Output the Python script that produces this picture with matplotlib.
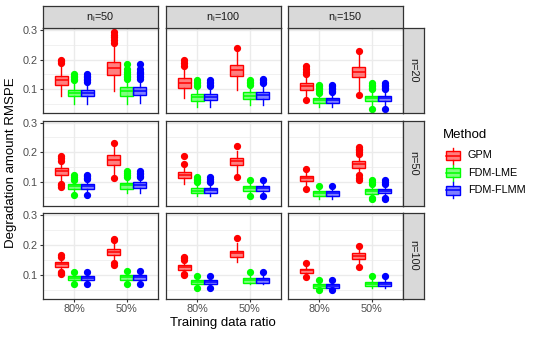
import matplotlib
matplotlib.use("Agg")
import matplotlib.pyplot as plt
from matplotlib.patches import Rectangle
from matplotlib.ticker import MultipleLocator

# ---------------- data ----------------
methods = ["GPM", "FDM-LME", "FDM-FLMM"]
colors = ["#FF0000", "#00FF00", "#0000FF"]
ratios = ["80%", "50%"]
col_labels = ["n$_\\mathregular{i}$=50", "n$_\\mathregular{i}$=100", "n$_\\mathregular{i}$=150"]
row_labels = ["n=20", "n=50", "n=100"]

# each entry: [row][col][ratio] -> (whislo, q1, med, q3, whishi)
gpm_stats = [
    [[(.076, .114, .130, .145, .185), (.095, .147, .171, .193, .245)],
     [(.072, .104, .122, .137, .175), (.099, .145, .164, .183, .228)],
     [(.075, .097, .110, .122, .145), (.095, .141, .158, .176, .215)]],
    [[(.100, .124, .136, .147, .165), (.125, .159, .174, .190, .220)],
     [(.093, .113, .123, .133, .150), (.130, .159, .170, .182, .205)],
     [(.090, .103, .113, .122, .135), (.130, .149, .160, .170, .190)]],
    [[(.115, .126, .135, .143, .155), (.148, .166, .175, .185, .205)],
     [(.107, .117, .126, .134, .145), (.143, .160, .172, .181, .205)],
     [(.098, .106, .114, .120, .132), (.135, .151, .161, .172, .188)]],
]
gpm_fliers = [
    [[[.19, .195, .2], [.255, .265, .275, .285, .293]],
     [[.18, .19, .2], [.238]],
     [[.064, .15, .16, .17, .178], [.081, .231]]],
    [[[.084, .09, .095, .172, .18, .187], [.115, .233]],
     [[.161, .187], [.118, .222]],
     [[.078, .145], [.107, .115, .124, .195, .2, .207, .213, .218]]],
    [[[.103, .106, .109, .16, .166], [.134, .138, .215, .219]],
     [[.098, .103, .149, .155, .16], [.223]],
     [[.092, .14], [.126, .197]]],
]
lme_stats = [
    [[(.050, .076, .087, .098, .125), (.052, .079, .093, .107, .130)],
     [(.039, .062, .073, .085, .105), (.047, .066, .078, .091, .110)],
     [(.040, .053, .063, .070, .085), (.045, .059, .069, .078, .095)]],
    [[(.065, .076, .086, .094, .105), (.064, .078, .090, .098, .115)],
     [(.055, .064, .072, .080, .095), (.060, .071, .079, .086, .100)],
     [(.044, .055, .062, .069, .080), (.050, .061, .069, .078, .090)]],
    [[(.072, .081, .089, .095, .104), (.074, .083, .091, .098, .108)],
     [(.060, .067, .075, .083, .090), (.067, .073, .081, .089, .100)],
     [(.051, .056, .062, .069, .076), (.056, .061, .069, .077, .088)]],
]
lme_fliers = [
    [[[.13, .135, .14, .145, .151], [.135, .14, .145, .15, .16, .17, .185]],
     [[.11, .115, .12, .125, .133], [.115, .12, .125, .133]],
     [[.088, .095, .1, .105, .11, .115], [.033, .1, .105, .11, .115, .12]]],
    [[[.057, .107, .112, .118, .124], [.118, .124, .13, .136]],
     [[.101, .106, .112, .118], [.053, .107]],
     [[.086], [.043, .047, .095, .1, .107]]],
    [[[.067, .109], [.069, .113]],
     [[.056, .095], [.109]],
     [[.047, .081], [.094]]],
]
flmm_stats = [
    [[(.050, .076, .088, .099, .120), (.053, .080, .095, .108, .130)],
     [(.040, .063, .075, .085, .105), (.047, .068, .080, .092, .115)],
     [(.040, .053, .063, .070, .085), (.045, .060, .070, .078, .095)]],
    [[(.066, .077, .087, .095, .106), (.065, .080, .090, .099, .115)],
     [(.055, .064, .073, .081, .095), (.060, .072, .080, .087, .100)],
     [(.044, .055, .062, .069, .080), (.050, .062, .070, .078, .090)]],
    [[(.072, .081, .089, .095, .104), (.074, .083, .091, .098, .108)],
     [(.060, .067, .075, .083, .090), (.067, .073, .082, .089, .100)],
     [(.051, .056, .062, .069, .076), (.056, .061, .069, .077, .088)]],
]
flmm_fliers = [
    [[[.125, .13, .135, .14, .145, .15], [.135, .14, .145, .15, .155, .16, .17, .185]],
     [[.11, .115, .12, .125, .133], [.12, .125, .13, .135]],
     [[.09, .095, .1, .105, .11, .115], [.033, .1, .105, .11, .115, .12]]],
    [[[.057, .11, .115, .12, .124], [.118, .122, .127, .132, .136]],
     [[.1, .105, .11, .118], [.053, .107]],
     [[.086], [.043, .047, .095, .1, .107]]],
    [[[.067, .109], [.069, .113]],
     [[.056, .095], [.109]],
     [[.047, .081], [.094]]],
]
all_stats = [gpm_stats, lme_stats, flmm_stats]
all_fliers = [gpm_fliers, lme_fliers, flmm_fliers]

# ---------------- layout ----------------
plt.rcParams["font.family"] = ["Liberation Sans", "DejaVu Sans"]
plt.rcParams["mathtext.fontset"] = "custom"
plt.rcParams["mathtext.rm"] = "Liberation Sans"
W, H = 540, 337
fig = plt.figure(figsize=(W / 100, H / 100), dpi=100)

col_x = [(43, 158), (166, 281), (288, 403)]
row_y = [(28, 113), (120.5, 206), (213, 298.5)]
strip_top = (6, 28)
strip_right = (403, 424)
border = "#333333"
grid_major = "#EBEBEB"
text_grey = "#4D4D4D"


def px_axes(x0, y0, x1, y1, **kw):
    return fig.add_axes([x0 / W, 1 - y1 / H, (x1 - x0) / W, (y1 - y0) / H], **kw)


offsets = [-0.25, 0.0, 0.25]
for r in range(3):
    for c in range(3):
        x0, x1 = col_x[c]
        y0, y1 = row_y[r]
        ax = px_axes(x0, y0, x1, y1)
        ax.set_xlim(0.4, 2.6)
        ax.set_ylim(0.02, 0.307)
        ax.set_facecolor("white")
        ax.yaxis.set_major_locator(MultipleLocator(0.1))
        ax.yaxis.set_minor_locator(MultipleLocator(0.05))
        ax.set_xticks([1, 2])
        ax.grid(True, which="major", color=grid_major, linewidth=1.0, zorder=0)
        ax.grid(True, which="minor", axis="y", color=grid_major, linewidth=0.5, zorder=0)
        ax.set_axisbelow(True)
        for m in range(3):
            stats = []
            for k in range(2):
                wl, q1, med, q3, wh = all_stats[m][r][c][k]
                stats.append(dict(whislo=wl, q1=q1, med=med, q3=q3, whishi=wh,
                                  fliers=all_fliers[m][r][c][k]))
            col = colors[m]
            ax.bxp(stats, positions=[1 + offsets[m], 2 + offsets[m]], widths=0.24,
                   patch_artist=True, showcaps=False,
                   boxprops=dict(facecolor=col + "80", edgecolor=col, linewidth=1.0),
                   medianprops=dict(color=col, linewidth=1.1),
                   whiskerprops=dict(color=col, linewidth=1.0),
                   flierprops=dict(marker="o", markerfacecolor=col, markeredgecolor=col,
                                   markersize=4.2, linestyle="none"),
                   manage_ticks=False)
        for s in ax.spines.values():
            s.set_color(border)
            s.set_linewidth(0.9)
        ax.tick_params(which="minor", length=0)
        ax.tick_params(which="major", length=2.5, width=0.8, color=border,
                       labelsize=7.8, labelcolor=text_grey, pad=1.5)
        if c == 0:
            ax.set_yticks([0.1, 0.2, 0.3])
            ax.set_yticklabels(["0.1", "0.2", "0.3"])
        else:
            ax.tick_params(axis="y", length=0, labelleft=False)
        if r == 2:
            ax.set_xticklabels(ratios)
        else:
            ax.tick_params(axis="x", length=0, labelbottom=False)

# strips
for c in range(3):
    x0, x1 = col_x[c]
    sax = px_axes(x0, strip_top[0], x1, strip_top[1])
    sax.set_facecolor("#D9D9D9")
    sax.set_xticks([]); sax.set_yticks([])
    for s in sax.spines.values():
        s.set_color(border); s.set_linewidth(0.9)
    sax.text(0.5, 0.5, col_labels[c], ha="center", va="center", fontsize=7.8,
             color="#1A1A1A", transform=sax.transAxes)
for r in range(3):
    y0, y1 = row_y[r]
    sax = px_axes(strip_right[0], y0, strip_right[1], y1)
    sax.set_facecolor("#D9D9D9")
    sax.set_xticks([]); sax.set_yticks([])
    for s in sax.spines.values():
        s.set_color(border); s.set_linewidth(0.9)
    sax.text(0.5, 0.5, row_labels[r], ha="center", va="center", fontsize=7.8,
             color="#1A1A1A", rotation=-90, transform=sax.transAxes)

# axis titles
fig.text(223 / W, 1 - 323 / H, "Training data ratio", ha="center", va="center",
         fontsize=9.5, color="black")
fig.text(11 / W, 1 - 163 / H, "Degradation amount RMSPE", ha="center", va="center",
         fontsize=9.5, color="black", rotation=90)

# legend
lax = px_axes(0, 0, W, H)
lax.set_xlim(0, W); lax.set_ylim(H, 0); lax.axis("off")
lax.patch.set_alpha(0)
lax.text(443, 135, "Method", ha="left", va="center", fontsize=9.5, color="black")
for i, (name, col) in enumerate(zip(methods, colors)):
    yc = 155.5 + 17.3 * i
    lax.plot([452.5, 452.5], [yc - 8, yc - 4.5], color=col, lw=1.0)
    lax.plot([452.5, 452.5], [yc + 4.5, yc + 8], color=col, lw=1.0)
    lax.add_patch(Rectangle((445.5, yc - 4.5), 14, 9, facecolor=col + "80",
                            edgecolor=col, lw=1.0))
    lax.plot([445.5, 459.5], [yc, yc], color=col, lw=1.1)
    lax.text(468, yc, name, ha="left", va="center", fontsize=7.8, color="black")

fig.savefig("out.png", dpi=100)
